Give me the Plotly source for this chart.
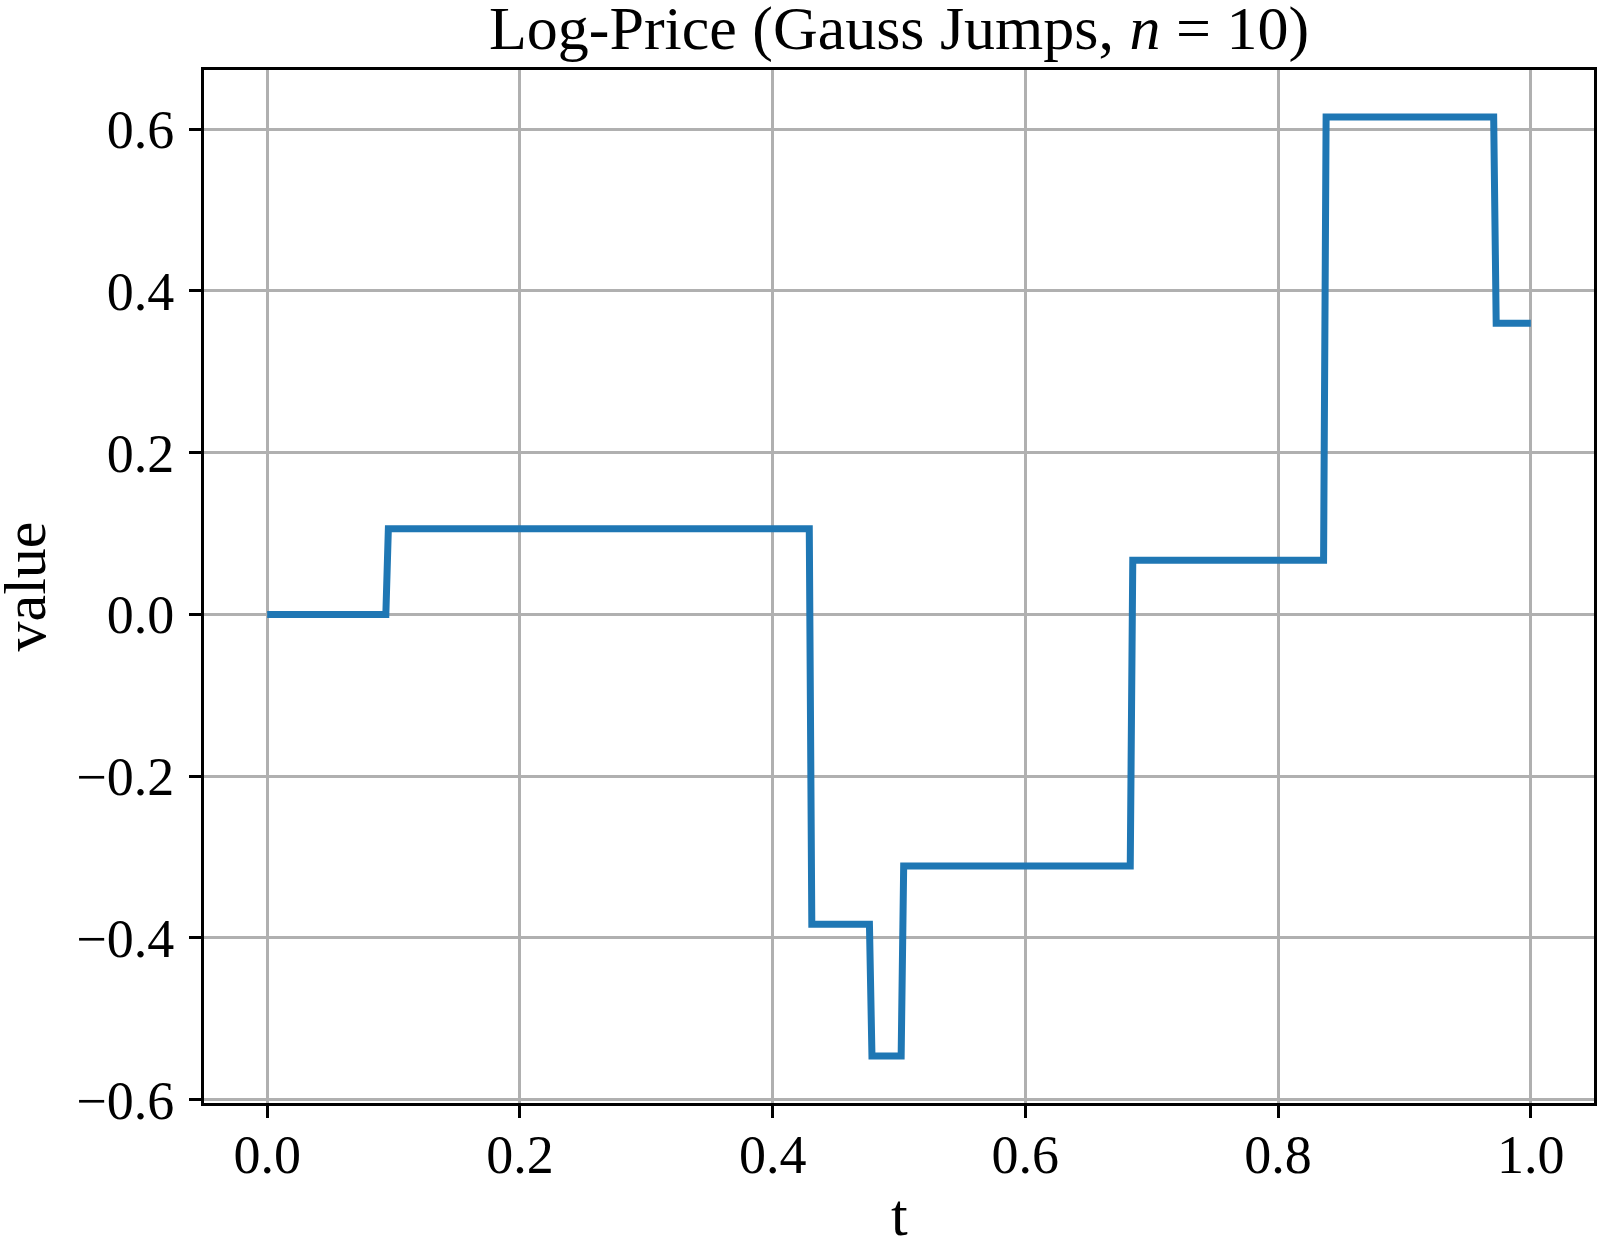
import plotly.graph_objects as go

# jump times and piecewise-constant levels
jump_times = [0.0939, 0.429, 0.4766, 0.5017, 0.683, 0.836, 0.9706]
levels = [0.0, 0.106, -0.383, -0.546, -0.311, 0.067, 0.615, 0.360]
t_start, t_end = 0.0, 1.0
x_ticks = [0.0, 0.2, 0.4, 0.6, 0.8, 1.0]
y_ticks = [-0.6, -0.4, -0.2, 0.0, 0.2, 0.4, 0.6]

# build the step path (grid step of the simulation, jumps are near-vertical)
dt = 0.002
t_path = [t_start]
v_path = [levels[0]]
for k, tj in enumerate(jump_times):
    t_path += [tj, tj + dt]
    v_path += [levels[k], levels[k + 1]]
t_path.append(t_end)
v_path.append(levels[-1])

# matplotlib-like 5% autoscale margins
x_pad = 0.05 * (t_end - t_start)
y_lo, y_hi = min(levels), max(levels)
y_pad = 0.05 * (y_hi - y_lo)

FONT = "Liberation Serif, Times New Roman, serif"

fig = go.Figure()

fig.add_trace(go.Scatter(
    x=t_path,
    y=v_path,
    mode='lines',
    line=dict(color='#1f77b4', width=7),
    showlegend=False
))

axis_common = dict(
    automargin=False,
    showline=True,
    linecolor='black',
    linewidth=3,
    mirror=True,
    ticks='outside',
    ticklen=12,
    tickwidth=3,
    tickcolor='black',
    showgrid=True,
    gridcolor='#b0b0b0',
    gridwidth=2.5,
    zeroline=False,
    tickformat='.1f',
    tickfont=dict(family=FONT, size=54, color='black'),
)

fig.update_layout(
    template='none',
    width=1600,
    height=1241,
    margin=dict(l=204, r=6, t=70, b=138),
    paper_bgcolor='white',
    plot_bgcolor='white',
    title=dict(
        text='Log-Price (Gauss Jumps, <i>n</i> = 10)',
        font=dict(family=FONT, size=62, color='black'),
        xref='paper',
        x=0.5,
        xanchor='center',
        yref='paper',
        y=1,
        yanchor='bottom',
        pad=dict(b=21),
    ),
    xaxis=dict(
        range=[t_start - x_pad, t_end + x_pad],
        tickvals=x_ticks,
        ticklabelstandoff=-10,
        **axis_common
    ),
    yaxis=dict(
        range=[y_lo - y_pad, y_hi + y_pad],
        tickvals=y_ticks,
        ticklabelstandoff=4,
        **axis_common
    ),
)

# axis labels as annotations so they can sit close to the figure edge
fig.add_annotation(
    text='t', xref='paper', yref='paper', x=0.5, y=0,
    xanchor='center', yanchor='top', yshift=-77, showarrow=False,
    font=dict(family=FONT, size=60, color='black')
)
fig.add_annotation(
    text='value', xref='paper', yref='paper', x=0, y=0.5,
    xanchor='center', yanchor='middle', xshift=-180, textangle=-90,
    showarrow=False, font=dict(family=FONT, size=60, color='black')
)

# page body margin would otherwise offset and crop the figure
fig.write_html(
    "out.html",
    config={'displayModeBar': False},
    post_script="document.body.style.margin='0px';"
)
